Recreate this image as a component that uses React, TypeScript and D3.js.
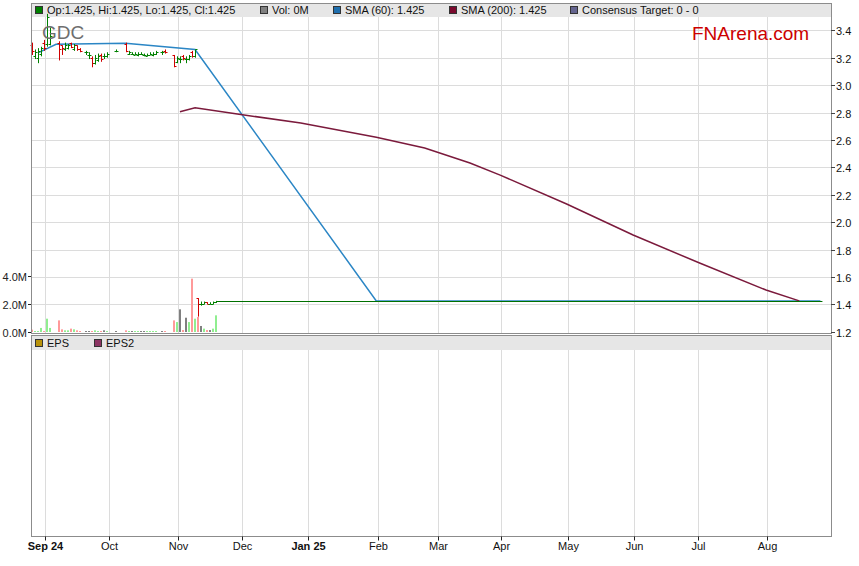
import React from 'react';
import * as d3 from 'd3';

const W = 859;
const H = 566;

// ---- Data ----
const candleDates = [
  '2024-08-27','2024-08-28','2024-08-29','2024-08-30','2024-09-02','2024-09-03','2024-09-04',
  '2024-09-09','2024-09-10','2024-09-11','2024-09-12','2024-09-13','2024-09-16','2024-09-17','2024-09-18',
  '2024-09-20','2024-09-23','2024-09-24','2024-09-25','2024-09-26','2024-09-27','2024-09-30','2024-10-01',
  '2024-10-04','2024-10-09','2024-10-10','2024-10-11','2024-10-14','2024-10-15','2024-10-16','2024-10-17',
  '2024-10-18','2024-10-21','2024-10-22','2024-10-23','2024-10-25','2024-10-28','2024-10-31','2024-11-01',
  '2024-11-04','2024-11-05','2024-11-06','2024-11-07','2024-11-08','2024-11-11','2024-11-12','2024-11-13',
  '2024-11-14','2024-11-15','2024-11-18','2024-11-19','2024-11-20'
];
const opens = [
  3.29,3.21,3.20,3.23,3.31,3.30,3.30,
  3.31,3.29,3.26,3.27,3.31,3.26,3.29,3.26,
  3.24,3.22,3.20,3.16,3.18,3.22,3.21,3.21,
  3.25,3.30,3.23,3.23,3.22,3.22,3.23,3.22,
  3.21,3.22,3.22,3.23,3.24,3.25,3.22,3.17,
  3.19,3.21,3.19,3.19,3.24,3.21,1.445,1.40,
  1.40,1.415,1.405,1.405,1.415
];
const highs = [
  3.31,3.26,3.27,3.28,3.33,3.52,3.42,
  3.32,3.29,3.31,3.30,3.31,3.30,3.29,3.27,
  3.25,3.24,3.21,3.22,3.23,3.23,3.23,3.24,
  3.26,3.31,3.25,3.24,3.24,3.24,3.24,3.23,
  3.23,3.24,3.24,3.25,3.25,3.26,3.22,3.21,
  3.21,3.22,3.21,3.22,3.25,3.26,1.445,1.42,
  1.42,1.415,1.415,1.42,1.425
];
const lows = [
  3.22,3.19,3.16,3.21,3.25,3.28,3.29,
  3.18,3.22,3.25,3.26,3.27,3.25,3.25,3.24,
  3.22,3.19,3.13,3.15,3.17,3.17,3.19,3.20,
  3.24,3.24,3.22,3.22,3.22,3.21,3.22,3.21,
  3.21,3.22,3.21,3.22,3.22,3.23,3.13,3.16,
  3.16,3.18,3.16,3.18,3.20,3.20,1.31,1.39,
  1.40,1.40,1.40,1.40,1.41
];
const closes = [
  3.25,3.24,3.25,3.27,3.27,3.50,3.36,
  3.26,3.27,3.29,3.29,3.28,3.29,3.26,3.25,
  3.24,3.22,3.16,3.20,3.21,3.19,3.21,3.23,
  3.25,3.25,3.24,3.23,3.23,3.23,3.23,3.22,
  3.22,3.23,3.23,3.24,3.24,3.24,3.14,3.20,
  3.19,3.20,3.19,3.21,3.21,3.26,1.40,1.40,
  1.415,1.405,1.405,1.415,1.425
];
const volumesM = [
  0.17,0.07,0.07,0.29,0.07,0.95,0.29,
  0.83,0.19,0.12,0.12,0.24,0.19,0.12,0.07,
  0.07,0.07,0.07,0.12,0.07,0.07,0.12,0.07,
  0.07,0.12,0.07,0.07,0.07,0.07,0.07,0.07,
  0.07,0.07,0.07,0.07,0.07,0.07,0.83,0.71,
  1.62,0.14,1.02,0.71,3.81,0.95,1.07,0.43,
  0.24,0.14,0.14,0.24,1.19
];

// price held flat after the last traded day
const flatStart = '2024-11-21';
const flatEnd = '2025-08-27';
const flatPrice = 1.425;

const sma60Dates = ['2024-08-29','2024-09-06','2024-10-09','2024-11-11','2025-02-03','2025-08-27'];
const sma60Values = [3.235, 3.298, 3.305, 3.26, 1.425, 1.425];

const sma200Dates = ['2024-11-04','2024-11-11','2024-11-29','2024-12-30','2025-02-03','2025-02-25','2025-03-18','2025-04-01','2025-05-01','2025-06-02','2025-07-02','2025-08-01','2025-08-18'];
const sma200Values = [2.806, 2.835, 2.789, 2.723, 2.62, 2.541, 2.431, 2.343, 2.132, 1.906, 1.701, 1.504, 1.425];

const priceTicks = [1.2, 1.4, 1.6, 1.8, 2.0, 2.2, 2.4, 2.6, 2.8, 3.0, 3.2, 3.4];
const volTicks = [0, 2, 4];
const monthDates = ['2024-09-02','2024-10-01','2024-11-01','2024-12-02','2025-01-01','2025-02-03','2025-03-03','2025-04-01','2025-05-01','2025-06-02','2025-07-01','2025-08-01'];
const monthLabels = ['Sep 24','Oct','Nov','Dec','Jan 25','Feb','Mar','Apr','May','Jun','Jul','Aug'];
const boldLabels = ['Sep 24', 'Jan 25'];

const legendTop = [
  { label: 'Op:1.425, Hi:1.425, Lo:1.425, Cl:1.425', color: '#008000', x: 35 },
  { label: 'Vol: 0M', color: '#808080', x: 260 },
  { label: 'SMA (60): 1.425', color: '#1f6fae', x: 333 },
  { label: 'SMA (200): 1.425', color: '#7b0a2e', x: 449 },
  { label: 'Consensus Target: 0 - 0', color: '#64648f', x: 570 },
];
const legendBottom = [
  { label: 'EPS', color: '#b8920a', x: 35 },
  { label: 'EPS2', color: '#8c3463', x: 94 },
];

// ---- helpers ----
const ORIGIN = Date.UTC(2024, 8, 2); // Monday
function wd(s: string): number {
  const [y, m, d] = s.split('-').map(Number);
  const days = Math.round((Date.UTC(y, m - 1, d) - ORIGIN) / 86400000);
  const weeks = Math.floor(days / 7);
  const rem = days - weeks * 7;
  return weeks * 5 + Math.min(rem, 5);
}

const PL = 31, PR = 831;
const P1T = 3, P1B = 333;
const P2T = 335.5, P2B = 536.5;
const FONT = "'Liberation Sans', Arial, sans-serif";

export default function App() {
  const x = d3.scaleLinear().domain([-4.3, 260.5]).range([PL, PR]);
  const y = d3.scaleLinear().domain([1.2, 3.4]).range([331.7, 30.3]);
  const v = d3.scaleLinear().domain([0, 4]).range([332, 276]);

  const gridX = monthDates.map((d) => Math.round(x(wd(d) + 0.43)) + 0.5);

  const sma60Line = d3.line<number>()
    .x((_, i) => x(wd(sma60Dates[i])))
    .y((val) => y(val));
  const sma200Line = d3.line<number>()
    .x((_, i) => x(wd(sma200Dates[i])))
    .y((val) => y(val));

  const GREEN = '#008000';
  const RED = '#d00000';

  return (
    <svg width={W} height={H} style={{ position: 'absolute', left: 0, top: 0, background: '#fff' }} fontFamily={FONT}>
      <rect x={0} y={0} width={W} height={H} fill="#fff" />
      {/* legend bars */}
      <rect x={PL} y={P1T} width={PR - PL} height={14} fill="#e6e6e6" />
      <rect x={PL} y={P2T} width={PR - PL} height={14.5} fill="#e6e6e6" />

      {/* vertical grid */}
      {gridX.map((gx, i) => (
        <g key={'g' + i}>
          <line x1={gx} x2={gx} y1={17} y2={P1B} stroke="#dcdcdc" />
          <line x1={gx} x2={gx} y1={P2T + 14.5} y2={P2B} stroke="#dcdcdc" />
        </g>
      ))}
      {/* horizontal grid */}
      {priceTicks.filter((t) => t > 1.3).map((t) => (
        <line key={'h' + t} x1={PL} x2={PR} y1={Math.round(y(t)) + 0.5} y2={Math.round(y(t)) + 0.5} stroke="#dcdcdc" />
      ))}

      {/* volume bars */}
      {volumesM.map((vol, i) => {
        const cx = Math.round(x(wd(candleDates[i])));
        const c = closes[i] > opens[i] ? '#90ee90' : closes[i] < opens[i] ? '#ff9a9a' : '#808080';
        return <rect key={'v' + i} x={cx - 1} y={v(vol)} width={2} height={v(0) - v(vol)} fill={c} />;
      })}

      {/* SMA lines */}
      <path d={sma60Line(sma60Values) || ''} fill="none" stroke="#2b86c5" strokeWidth={1.5} />
      <path d={sma200Line(sma200Values) || ''} fill="none" stroke="#7b1a3c" strokeWidth={1.5} />

      {/* flat price after last trade */}
      <line x1={x(wd(flatStart)) - 2} x2={x(wd(flatEnd)) + 2} y1={Math.round(y(flatPrice)) + 0.5} y2={Math.round(y(flatPrice)) + 0.5} stroke="#007000" strokeWidth={1} />

      {/* OHLC bars */}
      {candleDates.map((d, i) => {
        const cx = Math.round(x(wd(d))) + 0.5;
        const c = closes[i] >= opens[i] ? GREEN : RED;
        const yo = Math.round(y(opens[i])) + 0.5;
        const yc = Math.round(y(closes[i])) + 0.5;
        return (
          <g key={'c' + i} stroke={c} strokeWidth={1}>
            <line x1={cx} x2={cx} y1={y(highs[i])} y2={y(lows[i])} />
            <line x1={cx - 2} x2={cx} y1={yo} y2={yo} />
            <line x1={cx} x2={cx + 2} y1={yc} y2={yc} />
          </g>
        );
      })}

      {/* panel borders */}
      <rect x={PL + 0.5} y={P1T + 0.5} width={PR - PL} height={P1B - P1T} fill="none" stroke="#8c8c8c" />
      <rect x={PL + 0.5} y={P2T} width={PR - PL} height={P2B - P2T} fill="none" stroke="#8c8c8c" />

      {/* legends */}
      {legendTop.map((l) => (
        <g key={l.label}>
          <rect x={l.x + 0.5} y={6.5} width={7} height={7} fill={l.color} stroke="#333" />
          <text x={l.x + 12} y={14} fontSize={11} fill="#111">{l.label}</text>
        </g>
      ))}
      {legendBottom.map((l) => (
        <g key={l.label}>
          <rect x={l.x + 0.5} y={339.5} width={7} height={7} fill={l.color} stroke="#333" />
          <text x={l.x + 12} y={347} fontSize={11} fill="#111">{l.label}</text>
        </g>
      ))}

      {/* watermark texts */}
      <text x={42} y={38.5} fontSize={19} fill="#6e6e6e">GDC</text>
      <text x={692} y={39.5} fontSize={19} fill="#cc0000">FNArena.com</text>

      {/* right price axis */}
      {priceTicks.map((t) => {
        const ty = Math.round(y(t)) + 0.5;
        return (
          <g key={'pt' + t}>
            <line x1={PR} x2={PR + 4} y1={ty} y2={ty} stroke="#444" />
            <text x={PR + 5} y={ty + 4} fontSize={11} fill="#111">{t.toFixed(1)}</text>
          </g>
        );
      })}

      {/* left volume axis */}
      {volTicks.map((t) => {
        const ty = Math.round(v(t)) + 0.5;
        return (
          <g key={'vt' + t}>
            <line x1={PL - 3} x2={PL} y1={ty} y2={ty} stroke="#222" />
            <text x={PL - 4} y={ty + 4} fontSize={11} fill="#222" textAnchor="end">{t.toFixed(1) + 'M'}</text>
          </g>
        );
      })}

      {/* bottom time axis */}
      {gridX.map((gx, i) => (
        <g key={'xt' + i}>
          <line x1={gx} x2={gx} y1={P2B} y2={P2B + 4} stroke="#222" />
          <text x={gx} y={550} fontSize={11} textAnchor="middle" fill="#111" fontWeight={boldLabels.includes(monthLabels[i]) ? 'bold' : 'normal'}>{monthLabels[i]}</text>
        </g>
      ))}
    </svg>
  );
}
